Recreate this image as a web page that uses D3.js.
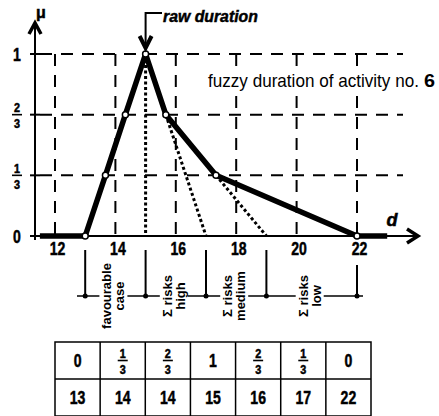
<!DOCTYPE html>
<html lang="en">
<head>
<meta charset="UTF-8">
<title>Fuzzy duration of activity no. 6</title>
<script src="https://d3js.org/d3.v7.min.js"></script>
<style>
  body { margin: 0; background: #fff; }
  svg text { font-family: "Liberation Sans", Arial, sans-serif; fill: #000; }
  svg text.heavy { stroke: #000; stroke-width: 0.5px; }
</style>
</head>
<body>
<svg width="439" height="416"></svg>
<script>
// membership function of activity no. 6 (vertices of the thick line)
const durations = [13, 13.67, 14.33, 15, 15.67, 17.33, 22];
const memberships = [0, 1/3, 2/3, 1, 2/3, 1/3, 0];
const tails = [[11.5, 13], [22, 23]];
// dotted construction lines: [d0, mu0, d1, mu1]
const guides = [[15, 1, 15, 0], [15.67, 2/3, 17, 0], [17.33, 1/3, 19, 0]];
const xTicks = [12, 14, 16, 18, 20, 22];
const yTicks = [0, 1/3, 2/3, 1];
const yTickLabels = ["0", "1/3", "2/3", "1"];
const riskBounds = [13, 15, 17, 19, 22];
const riskLabels = [["favourable", "case"], ["Σ risks", "high"], ["Σ risks", "medium"], ["Σ risks", "low"]];
const tableMu = ["0", "1/3", "2/3", "1", "2/3", "1/3", "0"];
const tableD = ["13", "14", "14", "15", "16", "17", "22"];

const svg = d3.select("svg");
svg.append("rect").attr("width", 439).attr("height", 416).attr("fill", "#fff");

const x = d3.scaleLinear().domain([12, 22]).range([55, 357]);
const y = d3.scaleLinear().domain([0, 1]).range([236, 54]);
const axisX = 35;
const NARROW = 0.74;

// squeeze a text horizontally so it spans `w` px starting at (x0, y0)
function fit(sel, x0, y0, w) {
    const n = sel.node().getComputedTextLength();
    sel.attr("transform", `translate(${x0},${y0}) scale(${w / n},1)`);
    return sel;
}

// draws a number, or "a/b" as a stacked fraction, centred at (cx, cy)
function label(g, txt, cx, cy, size, fracSize) {
    const parts = txt.split("/");
    const put = (s, ty, fs, dy, k) => g.append("text").attr("class", "heavy")
        .attr("transform", `translate(${cx},${ty}) scale(${k},1)`)
        .attr("dy", dy).attr("text-anchor", "middle")
        .attr("font-size", fs).attr("font-weight", "bold").text(s);
    if (parts.length === 1) { put(txt, cy, size, "0.36em", NARROW); return; }
    put(parts[0], cy - 2.4, fracSize, 0, 0.9);
    g.append("line").attr("x1", cx - 5).attr("x2", cx + 5).attr("y1", cy).attr("y2", cy)
        .attr("stroke", "#000").attr("stroke-width", 1.6);
    put(parts[1], cy + 2.6, fracSize, "0.9em", 0.9);
}

// dashed grid
const grid = svg.append("g").attr("stroke", "#000").attr("stroke-width", 2).attr("stroke-dasharray", "12,9");
grid.selectAll(".h").data(yTicks.filter(d => d > 0)).enter().append("line")
    .attr("x1", axisX + 5).attr("x2", 403).attr("y1", d => y(d)).attr("y2", d => y(d));
grid.selectAll(".v").data(xTicks).enter().append("line")
    .attr("x1", d => x(d)).attr("x2", d => x(d)).attr("y1", y(1)).attr("y2", y(0));

// title with white backing
const title = svg.append("g");
fit(title.append("text").attr("font-size", 18).text("fuzzy duration of activity no."), 208, 87, 211);
fit(title.append("text").attr("font-size", 18).attr("font-weight", "bold").text("6"), 424, 87, 11);
const tb = title.node().getBBox();
title.insert("rect", "text").attr("x", tb.x - 2).attr("y", tb.y - 2).attr("width", tb.width + 3)
    .attr("height", tb.height + 4).attr("fill", "#fff");

// axes
svg.append("line").attr("x1", 30).attr("x2", 415).attr("y1", y(0)).attr("y2", y(0))
    .attr("stroke", "#000").attr("stroke-width", 2);
svg.append("path").attr("d", `M407,${y(0) - 7}L418,${y(0)}L407,${y(0) + 7}`)
    .attr("fill", "none").attr("stroke", "#000").attr("stroke-width", 3.5);
svg.append("line").attr("x1", axisX).attr("x2", axisX).attr("y1", y(0) + 4).attr("y2", 26)
    .attr("stroke", "#000").attr("stroke-width", 2);
svg.append("path").attr("d", `M${axisX - 6},34L${axisX},23L${axisX + 6},34`)
    .attr("fill", "none").attr("stroke", "#000").attr("stroke-width", 3.5);
svg.append("text").attr("class", "heavy").attr("x", 41).attr("y", 18).attr("text-anchor", "middle")
    .attr("font-size", 16).attr("font-weight", "bold").text("μ");
svg.append("text").attr("class", "heavy").attr("x", 392).attr("y", 226).attr("text-anchor", "middle")
    .attr("font-size", 18).attr("font-style", "italic").attr("font-weight", "bold").text("d");

// y ticks and labels
const yl = svg.append("g");
yTicks.forEach((d, i) => {
    yl.append("line").attr("x1", axisX - 5).attr("x2", axisX + 5).attr("y1", y(d)).attr("y2", y(d))
        .attr("stroke", "#000").attr("stroke-width", 2);
    label(yl, yTickLabels[i], 17, y(d), 19, 12);
});

// x tick labels
const xa = svg.append("g").attr("transform", `translate(2,${y(0)})`)
    .call(d3.axisBottom(x).tickValues(xTicks).tickSize(0).tickPadding(6));
xa.select(".domain").remove();
xa.selectAll("text").attr("class", "heavy").attr("font-size", 19).attr("font-weight", "bold")
    .attr("font-family", "'Liberation Sans', Arial, sans-serif")
    .attr("transform", `scale(${NARROW},1)`);

// dotted guides
svg.append("g").selectAll("line").data(guides).enter().append("line")
    .attr("x1", d => x(d[0])).attr("y1", d => y(d[1])).attr("x2", d => x(d[2])).attr("y2", d => y(d[3]))
    .attr("stroke", "#000").attr("stroke-width", 3).attr("stroke-dasharray", "3,2.5");

// membership function
const pts = durations.map((d, i) => [d, memberships[i]]);
const line = d3.line().x(d => x(d[0])).y(d => y(d[1]));
svg.append("path").datum(pts).attr("d", line).attr("fill", "none")
    .attr("stroke", "#000").attr("stroke-width", 5.5).attr("stroke-linejoin", "round");
svg.append("g").selectAll("line").data(tails).enter().append("line")
    .attr("x1", d => x(d[0])).attr("x2", d => x(d[1])).attr("y1", y(0)).attr("y2", y(0))
    .attr("stroke", "#000").attr("stroke-width", 5.5);
svg.append("g").selectAll("circle").data(pts).enter().append("circle")
    .attr("cx", d => x(d[0])).attr("cy", d => y(d[1])).attr("r", 3)
    .attr("fill", "#fff").attr("stroke", "#000").attr("stroke-width", 1.5);

// raw duration annotation
const px = x(15);
svg.append("path").attr("d", `M162,13H${px}V${y(1) - 10}`).attr("fill", "none")
    .attr("stroke", "#000").attr("stroke-width", 2);
svg.append("path").attr("d", `M${px - 6},${y(1) - 18}L${px},${y(1) - 6}L${px + 6},${y(1) - 18}`)
    .attr("fill", "none").attr("stroke", "#000").attr("stroke-width", 4);
fit(svg.append("text").attr("class", "heavy").attr("font-size", 17)
    .attr("font-style", "italic").attr("font-weight", "bold").text("raw duration"), 163, 22, 95);

// risk brackets
const by = 296;
svg.append("line").attr("x1", 77).attr("x2", 363).attr("y1", by).attr("y2", by)
    .attr("stroke", "#000").attr("stroke-width", 1.5);
riskBounds.forEach((d, i) => {
    svg.append("line").attr("x1", x(d)).attr("x2", x(d)).attr("y1", i === riskBounds.length - 1 ? 265 : 250)
        .attr("y2", by).attr("stroke", "#000").attr("stroke-width", 2);
    svg.append("circle").attr("cx", x(d)).attr("cy", by).attr("r", 2.5).attr("fill", "#000");
});
riskLabels.forEach((lines, i) => {
    const cx = (x(riskBounds[i]) + x(riskBounds[i + 1])) / 2 - 2;
    const g = svg.append("g").attr("transform", `translate(${cx},${by}) rotate(-90)`);
    const t = g.append("text").attr("text-anchor", "middle").attr("font-size", 13).attr("font-weight", "bold");
    lines.forEach((s, j) => t.append("tspan").attr("x", 0).attr("y", (j - 0.5) * 13 + 4.5).text(s));
    const b = t.node().getBBox();
    g.insert("rect", "text").attr("x", b.x - 1).attr("y", b.y).attr("width", b.width + 2)
        .attr("height", b.height).attr("fill", "#fff");
});

// table of alpha-cuts
const cols = d3.scaleBand().domain(d3.range(tableMu.length)).range([55, 371]);
const rowY = [342, 379, 416];
const tbl = svg.append("g");
tbl.append("rect").attr("x", 55).attr("y", rowY[0]).attr("width", 316).attr("height", rowY[2] - rowY[0])
    .attr("fill", "none").attr("stroke", "#000").attr("stroke-width", 1.5);
tbl.append("line").attr("x1", 55).attr("x2", 371).attr("y1", rowY[1]).attr("y2", rowY[1])
    .attr("stroke", "#000").attr("stroke-width", 1.5);
d3.range(1, tableMu.length).forEach(i => {
    tbl.append("line").attr("x1", cols(i)).attr("x2", cols(i)).attr("y1", rowY[0]).attr("y2", rowY[2])
        .attr("stroke", "#000").attr("stroke-width", 1.5);
});
tableMu.forEach((s, i) => label(tbl, s, cols(i) + cols.bandwidth() / 2, (rowY[0] + rowY[1]) / 2, 19, 12));
tableD.forEach((s, i) => label(tbl, s, cols(i) + cols.bandwidth() / 2, (rowY[1] + rowY[2]) / 2, 19, 12));
</script>
</body>
</html>
